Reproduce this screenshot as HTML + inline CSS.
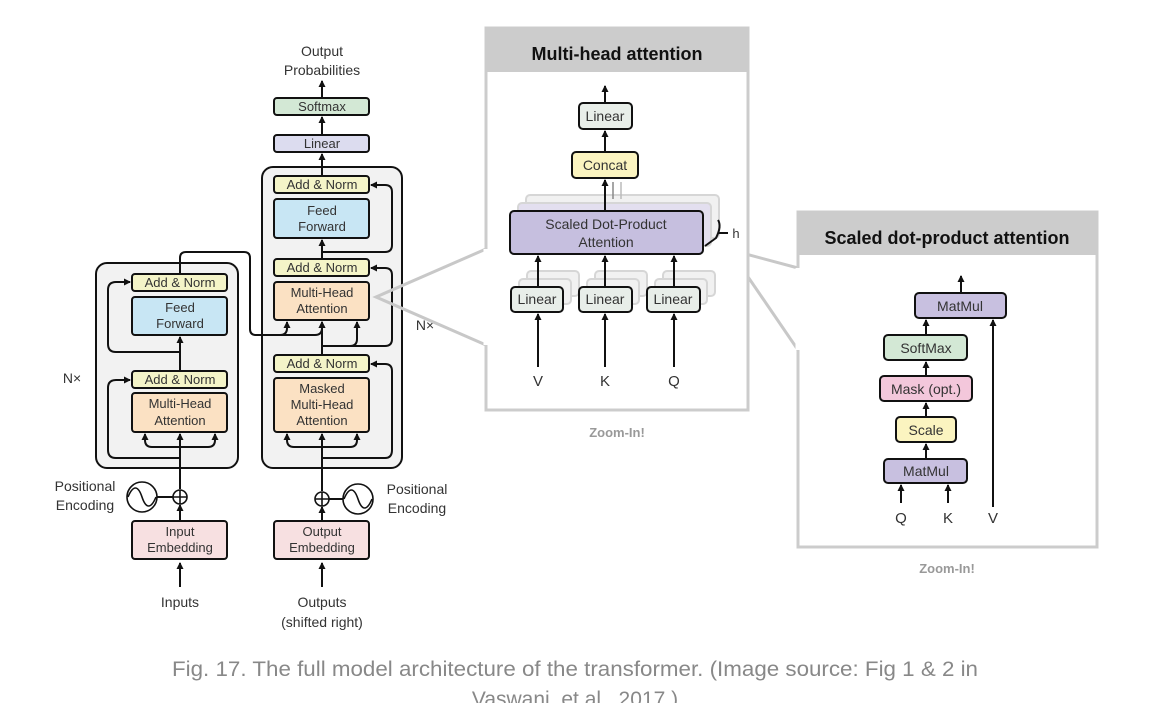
<!DOCTYPE html>
<html><head><meta charset="utf-8"><style>
html,body{margin:0;padding:0;background:#fff;}
svg{display:block;}
text{font-family:"Liberation Sans",sans-serif;}
</style></head><body>
<svg width="1164" height="703" viewBox="0 0 1164 703" xmlns="http://www.w3.org/2000/svg">
<defs>
<marker id="a" markerWidth="8" markerHeight="8" refX="6" refY="4" orient="auto" markerUnits="userSpaceOnUse"><path d="M0,0.5 L7,4 L0,7.5 Z" fill="#111"/></marker>
</defs>
<g font-size="13" fill="#333" text-anchor="middle">
<rect x="96" y="263" width="142" height="205" rx="11" fill="#f2f2f2" stroke="#111" stroke-width="2"/>
<rect x="262" y="167" width="140" height="301" rx="11" fill="#f2f2f2" stroke="#111" stroke-width="2"/>

<g stroke="#111" stroke-width="2" fill="none">
<line x1="322" y1="587" x2="322" y2="563" marker-end="url(#a)"/>
<line x1="322" y1="521" x2="322" y2="507" marker-end="url(#a)"/>
<line x1="322" y1="491" x2="322" y2="434" marker-end="url(#a)"/>
<line x1="322" y1="355" x2="322" y2="322" marker-end="url(#a)"/>
<line x1="322" y1="259" x2="322" y2="240" marker-end="url(#a)"/>
<line x1="322" y1="176" x2="322" y2="154" marker-end="url(#a)"/>
<line x1="322" y1="135" x2="322" y2="117" marker-end="url(#a)"/>
<line x1="322" y1="98" x2="322" y2="81" marker-end="url(#a)"/>
<line x1="180" y1="587" x2="180" y2="563" marker-end="url(#a)"/>
<line x1="180" y1="521" x2="180" y2="505" marker-end="url(#a)"/>
<line x1="180" y1="489" x2="180" y2="434" marker-end="url(#a)"/>
<line x1="180" y1="371" x2="180" y2="337" marker-end="url(#a)"/>
<path d="M180,447 H152 Q145,447 145,440 V434" marker-end="url(#a)"/>
<path d="M180,447 H208 Q215,447 215,440 V434" marker-end="url(#a)"/>
<path d="M180,458 H116 Q108,458 108,450 V388 Q108,380 116,380 H130" marker-end="url(#a)"/>
<path d="M180,352 H116 Q108,352 108,344 V290 Q108,282 116,282 H130" marker-end="url(#a)"/>
<path d="M180,274 V258 Q180,252 186,252 H244 Q250,252 250,258 V329 Q250,335 256,335 H280 Q287,335 287,328 V322" marker-end="url(#a)"/>
<path d="M280,335 H315 Q322,335 322,328 V322" marker-end="url(#a)"/>
<path d="M322,447 H294 Q287,447 287,440 V434" marker-end="url(#a)"/>
<path d="M322,447 H350 Q357,447 357,440 V434" marker-end="url(#a)"/>
<path d="M322,458 H385 Q392,458 392,450 V371 Q392,364 385,364 H371" marker-end="url(#a)"/>
<path d="M322,346 H350 Q357,346 357,339 V322" marker-end="url(#a)"/>
<path d="M322,346 H385 Q392,346 392,339 V275 Q392,268 385,268 H371" marker-end="url(#a)"/>
<path d="M322,252 H385 Q392,252 392,245 V192 Q392,185 385,185 H371" marker-end="url(#a)"/>
<line x1="157" y1="497" x2="173" y2="497"/>
<line x1="329" y1="499" x2="343" y2="499"/>
</g>

<g stroke="#111" stroke-width="2">
<rect x="274" y="98" width="95" height="17" rx="3" fill="#d3e8d5"/>
<rect x="274" y="135" width="95" height="17" rx="3" fill="#dcdcef"/>
<rect x="274" y="176" width="95" height="17" rx="3" fill="#f4f4c8"/>
<rect x="274" y="199" width="95" height="39" rx="3" fill="#c8e6f4"/>
<rect x="274" y="259" width="95" height="17" rx="3" fill="#f4f4c8"/>
<rect x="274" y="282" width="95" height="38" rx="3" fill="#fbe1c3"/>
<rect x="274" y="355" width="95" height="17" rx="3" fill="#f4f4c8"/>
<rect x="274" y="378" width="95" height="54" rx="3" fill="#fbe1c3"/>
<rect x="274" y="521" width="95" height="38" rx="3" fill="#f7e0e1"/>
<rect x="132" y="274" width="95" height="17" rx="3" fill="#f4f4c8"/>
<rect x="132" y="297" width="95" height="38" rx="3" fill="#c8e6f4"/>
<rect x="132" y="371" width="95" height="17" rx="3" fill="#f4f4c8"/>
<rect x="132" y="393" width="95" height="39" rx="3" fill="#fbe1c3"/>
<rect x="132" y="521" width="95" height="38" rx="3" fill="#f7e0e1"/>
</g>
<g stroke="#111" stroke-width="1.6" fill="#fff">
<circle cx="180" cy="497" r="7"/><path d="M173,497 H187 M180,490 V504" fill="none"/>
<circle cx="322" cy="499" r="7"/><path d="M315,499 H329 M322,492 V506" fill="none"/>
<circle cx="142" cy="497" r="15"/><path d="M128,497 C133,485 138,485 142,497 C146,509 151,509 156,497" fill="none"/>
<circle cx="358" cy="499" r="15"/><path d="M344,499 C349,487 354,487 358,499 C362,511 367,511 372,499" fill="none"/>
</g>
<text x="322" y="56" font-size="14">Output</text>
<text x="322" y="75" font-size="14">Probabilities</text>
<text x="322" y="111">Softmax</text>
<text x="322" y="148">Linear</text>
<text x="322" y="189">Add &amp; Norm</text>
<text x="322" y="215">Feed</text>
<text x="322" y="231">Forward</text>
<text x="322" y="272">Add &amp; Norm</text>
<text x="322" y="297">Multi-Head</text>
<text x="322" y="313">Attention</text>
<text x="322" y="368">Add &amp; Norm</text>
<text x="322" y="393">Masked</text>
<text x="322" y="409">Multi-Head</text>
<text x="322" y="425">Attention</text>
<text x="322" y="536">Output</text>
<text x="322" y="552">Embedding</text>
<text x="322" y="607" font-size="14">Outputs</text>
<text x="322" y="627" font-size="14">(shifted right)</text>
<text x="180" y="287">Add &amp; Norm</text>
<text x="180" y="312">Feed</text>
<text x="180" y="328">Forward</text>
<text x="180" y="384">Add &amp; Norm</text>
<text x="180" y="408">Multi-Head</text>
<text x="180" y="425">Attention</text>
<text x="180" y="536">Input</text>
<text x="180" y="552">Embedding</text>
<text x="180" y="607" font-size="14">Inputs</text>
<text x="85" y="491" font-size="14">Positional</text>
<text x="85" y="510" font-size="14">Encoding</text>
<text x="417" y="494" font-size="14">Positional</text>
<text x="417" y="513" font-size="14">Encoding</text>
<text x="72" y="383" font-size="14">N×</text>
<text x="425" y="330" font-size="14">N×</text>
</g>

<g stroke="#c8c8c8" stroke-width="3" fill="none">
<path d="M486,249 L376,297 L486,345"/>
<path d="M727,249 L798,268"/>
<path d="M731,252 L798,350"/>
</g>

<rect x="486" y="28" width="262" height="382" fill="#fff" stroke="#cccccc" stroke-width="3"/>
<rect x="486" y="28" width="262" height="44" fill="#cccccc"/>
<path d="M486,249 L486,345" stroke="#fff" stroke-width="5" fill="none"/>
<text x="617" y="60" font-size="18" font-weight="bold" text-anchor="middle" fill="#111">Multi-head attention</text>
<g stroke="#ccc" stroke-width="2" fill="#eee" opacity="0.8">
<rect x="526" y="195" width="193" height="43" rx="4"/>
<rect x="518" y="203" width="193" height="43" rx="4" fill="#ddd8ec"/>
<rect x="527" y="271" width="52" height="25" rx="4"/><rect x="519" y="279" width="52" height="25" rx="4"/>
<rect x="595" y="271" width="52" height="25" rx="4"/><rect x="587" y="279" width="52" height="25" rx="4"/>
<rect x="663" y="271" width="52" height="25" rx="4"/><rect x="655" y="279" width="52" height="25" rx="4"/>
</g>
<g stroke="#111" stroke-width="2" fill="none">
<line x1="605" y1="103" x2="605" y2="86" marker-end="url(#a)"/>
<line x1="605" y1="152" x2="605" y2="131" marker-end="url(#a)"/>
<line x1="605" y1="211" x2="605" y2="180" marker-end="url(#a)"/>
<line x1="538" y1="287" x2="538" y2="256" marker-end="url(#a)"/>
<line x1="605" y1="287" x2="605" y2="256" marker-end="url(#a)"/>
<line x1="674" y1="287" x2="674" y2="256" marker-end="url(#a)"/>
<line x1="538" y1="367" x2="538" y2="314" marker-end="url(#a)"/>
<line x1="605" y1="367" x2="605" y2="314" marker-end="url(#a)"/>
<line x1="674" y1="367" x2="674" y2="314" marker-end="url(#a)"/>
<path d="M718,220 Q722,226 716,238 L705,246" />
<line x1="718" y1="233" x2="728" y2="233"/>
</g>
<g stroke="#888" stroke-width="1.5"><line x1="613" y1="199" x2="613" y2="182"/><line x1="621" y1="199" x2="621" y2="182" stroke="#bbb"/></g>
<g stroke="#111" stroke-width="2">
<rect x="579" y="103" width="53" height="26" rx="4" fill="#e8eee9"/>
<rect x="572" y="152" width="66" height="26" rx="4" fill="#fbf4c0"/>
<rect x="510" y="211" width="193" height="43" rx="4" fill="#c6bfdf"/>
<rect x="511" y="287" width="52" height="25" rx="4" fill="#e8eee9"/>
<rect x="579" y="287" width="53" height="25" rx="4" fill="#e8eee9"/>
<rect x="647" y="287" width="53" height="25" rx="4" fill="#e8eee9"/>
</g>
<g font-size="14" fill="#333" text-anchor="middle">
<text x="605" y="121">Linear</text>
<text x="605" y="170">Concat</text>
<text x="606" y="229">Scaled Dot-Product</text>
<text x="606" y="247">Attention</text>
<text x="537" y="304">Linear</text>
<text x="605" y="304">Linear</text>
<text x="673" y="304">Linear</text>
<text x="538" y="386" font-size="15">V</text>
<text x="605" y="386" font-size="15">K</text>
<text x="674" y="386" font-size="15">Q</text>
<text x="736" y="238" font-size="13">h</text>
<text x="617" y="437" font-size="13" font-weight="bold" fill="#999">Zoom-In!</text>
</g>

<rect x="798" y="212" width="299" height="335" fill="#fff" stroke="#cccccc" stroke-width="3"/>
<rect x="798" y="212" width="299" height="43" fill="#cccccc"/>
<path d="M798,268 L798,350" stroke="#fff" stroke-width="5" fill="none"/>
<text x="947" y="244" font-size="18" font-weight="bold" text-anchor="middle" fill="#111">Scaled dot-product attention</text>
<g stroke="#111" stroke-width="2" fill="none">
<line x1="961" y1="293" x2="961" y2="276" marker-end="url(#a)"/>
<line x1="926" y1="335" x2="926" y2="320" marker-end="url(#a)"/>
<line x1="926" y1="376" x2="926" y2="362" marker-end="url(#a)"/>
<line x1="926" y1="417" x2="926" y2="403" marker-end="url(#a)"/>
<line x1="926" y1="459" x2="926" y2="444" marker-end="url(#a)"/>
<line x1="901" y1="503" x2="901" y2="485" marker-end="url(#a)"/>
<line x1="948" y1="503" x2="948" y2="485" marker-end="url(#a)"/>
<line x1="993" y1="507" x2="993" y2="320" marker-end="url(#a)"/>
</g>
<g stroke="#111" stroke-width="2">
<rect x="915" y="293" width="91" height="25" rx="4" fill="#c8c0e0"/>
<rect x="884" y="335" width="83" height="25" rx="4" fill="#d3e8d5"/>
<rect x="880" y="376" width="92" height="25" rx="4" fill="#f3c7db"/>
<rect x="896" y="417" width="60" height="25" rx="4" fill="#fbf4c0"/>
<rect x="884" y="459" width="83" height="24" rx="4" fill="#c8c0e0"/>
</g>
<g font-size="14" fill="#333" text-anchor="middle">
<text x="960" y="311">MatMul</text>
<text x="926" y="353">SoftMax</text>
<text x="926" y="394">Mask (opt.)</text>
<text x="926" y="435">Scale</text>
<text x="926" y="476">MatMul</text>
<text x="901" y="523" font-size="15">Q</text>
<text x="948" y="523" font-size="15">K</text>
<text x="993" y="523" font-size="15">V</text>
<text x="947" y="573" font-size="13" font-weight="bold" fill="#999">Zoom-In!</text>
</g>

<g font-size="21" fill="#888" text-anchor="middle">
<text x="575" y="676" textLength="806" lengthAdjust="spacingAndGlyphs">Fig. 17. The full model architecture of the transformer. (Image source: Fig 1 &amp; 2 in</text>
<text x="575" y="706">Vaswani, et al., 2017.)</text>
</g>
</svg>
</body></html>
